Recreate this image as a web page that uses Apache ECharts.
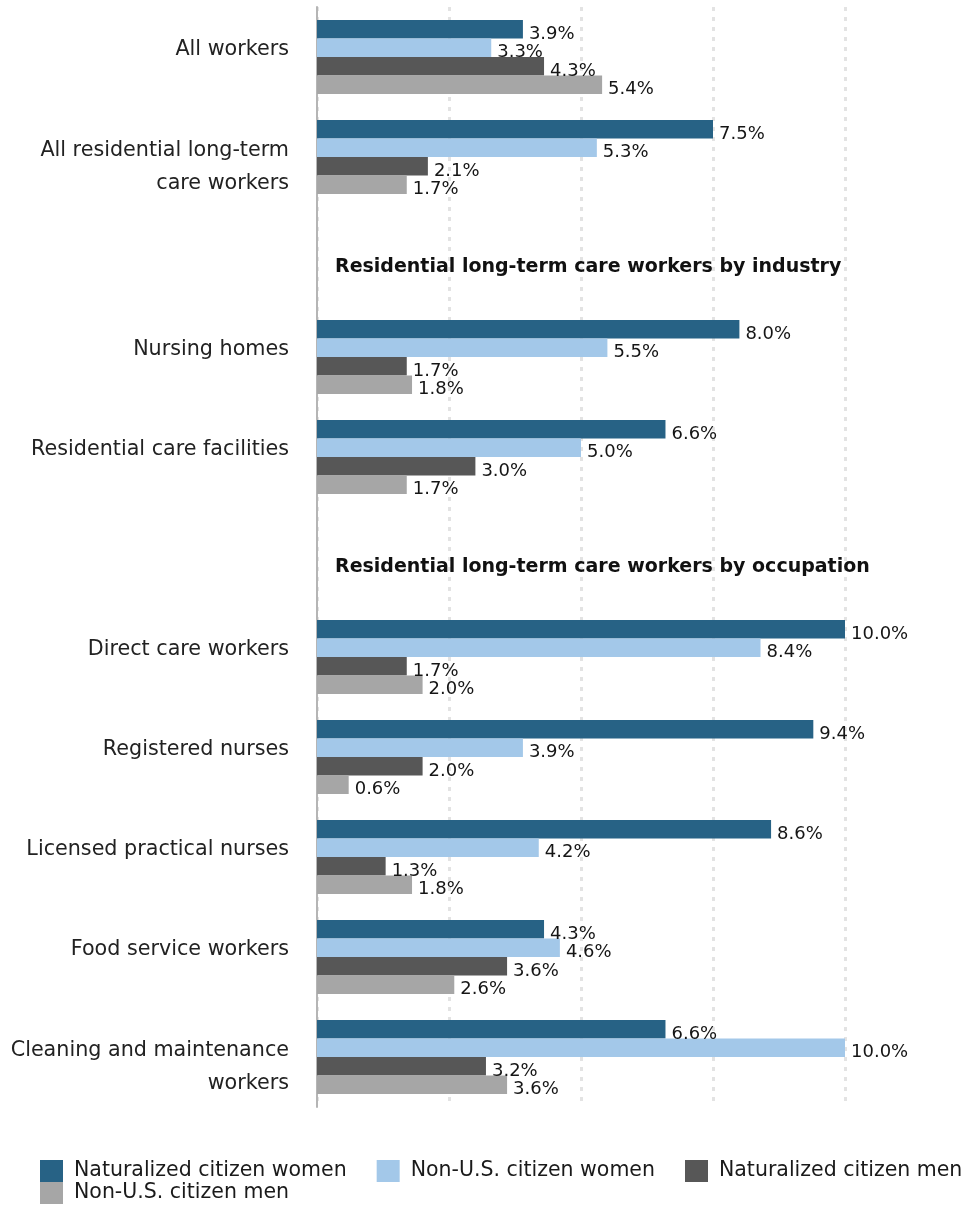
<!DOCTYPE html>
<html>
<head>
<meta charset="utf-8">
<script src="https://cdn.jsdelivr.net/npm/echarts@6/dist/echarts.min.js"></script>
<style>
  html, body { margin: 0; padding: 0; background: #fff; }
  #chart { width: 966px; height: 1208px; }
</style>
</head>
<body>
<div id="chart"></div>
<script>
// Row labels (top to bottom); empty rows hold the section headings
const categories = [
  'All workers',
  'All residential long-term\ncare workers',
  '',
  'Nursing homes',
  'Residential care facilities',
  '',
  'Direct care workers',
  'Registered nurses',
  'Licensed practical nurses',
  'Food service workers',
  'Cleaning and maintenance\nworkers'
];

// Section headings and the row each one sits on
const headingRows = [2, 5];
const headings = [
  'Residential long-term care workers by industry',
  'Residential long-term care workers by occupation'
];

const seriesNames = [
  'Naturalized citizen women',
  'Non-U.S. citizen women',
  'Naturalized citizen men',
  'Non-U.S. citizen men'
];

// Shares of workers, in percent
const naturalizedWomen = [3.9, 7.5, null, 8.0, 6.6, null, 10.0, 9.4, 8.6, 4.3, 6.6];
const nonCitizenWomen  = [3.3, 5.3, null, 5.5, 5.0, null, 8.4, 3.9, 4.2, 4.6, 10.0];
const naturalizedMen   = [4.3, 2.1, null, 1.7, 3.0, null, 1.7, 2.0, 1.3, 3.6, 3.2];
const nonCitizenMen    = [5.4, 1.7, null, 1.8, 1.7, null, 2.0, 0.6, 1.8, 2.6, 3.6];

const colors = ['#276285', '#a3c8e9', '#575757', '#a6a6a6'];
const FONT = 'DejaVu Sans';
const LABEL_SIZE = 20.7;

const chart = echarts.init(document.getElementById('chart'), null, { renderer: 'canvas' });

function barSeries(name, values, color) {
  return {
    name: name,
    type: 'bar',
    data: values,
    itemStyle: { color: color },
    barGap: '0%',
    barCategoryGap: '26%',
    label: {
      show: true,
      position: 'right',
      distance: 6,
      offset: [0, 5],
      fontFamily: FONT,
      fontSize: 18,
      color: '#151515',
      formatter: p => (p.value == null ? '' : p.value.toFixed(1) + '%')
    }
  };
}

const legendBase = {
  left: 40,
  width: 926,
  orient: 'horizontal',
  padding: 0,
  itemWidth: 23,
  itemHeight: 22,
  itemGap: 30,
  icon: 'rect',
  textStyle: { fontFamily: FONT, fontSize: 20.5, color: '#1a1a1a', padding: [0, 0, 0, 6] }
};

const option = {
  animation: false,
  backgroundColor: '#ffffff',
  textStyle: { fontFamily: FONT },
  grid: { left: 317, right: 121, top: 7, bottom: 101, containLabel: false },
  xAxis: {
    type: 'value',
    min: 0,
    max: 10,
    interval: 2.5,
    axisLabel: { show: false },
    axisLine: { show: false },
    axisTick: { show: false },
    splitLine: {
      show: true,
      lineStyle: { color: '#e3e3e3', width: 3, type: [4, 6] }
    }
  },
  yAxis: {
    type: 'category',
    inverse: true,
    data: categories,
    axisLine: { show: true, lineStyle: { color: '#b5b5b5', width: 2 } },
    axisTick: { show: false },
    axisLabel: {
      margin: 28,
      fontFamily: FONT,
      fontSize: LABEL_SIZE,
      color: '#222',
      formatter: v => {
        if (!v) return '';
        const lines = v.split('\n');
        if (lines.length === 1) return '{s|' + v + '}';
        return lines.map(l => '{m|' + l + '}').join('\n');
      },
      rich: {
        s: { fontFamily: FONT, fontSize: LABEL_SIZE, color: '#222', padding: [0, 0, 14, 0] },
        m: { fontFamily: FONT, fontSize: LABEL_SIZE, color: '#222', lineHeight: 33, padding: [20, 0, 0, 0] }
      }
    }
  },
  legend: [
    Object.assign({}, legendBase, { data: seriesNames.slice(0, 3), top: 1160 }),
    Object.assign({}, legendBase, { data: seriesNames.slice(3), top: 1182 })
  ],
  series: [
    barSeries(seriesNames[0], naturalizedWomen, colors[0]),
    barSeries(seriesNames[1], nonCitizenWomen, colors[1]),
    barSeries(seriesNames[2], naturalizedMen, colors[2]),
    barSeries(seriesNames[3], nonCitizenMen, colors[3]),
    {
      // Section headings, left-aligned just inside the plot
      name: 'headings',
      type: 'scatter',
      silent: true,
      symbolSize: 0,
      itemStyle: { opacity: 1, color: 'rgba(0,0,0,0)' },
      data: headingRows.map(row => [0, row]),
      label: {
        show: true,
        position: 'inside',
        align: 'left',
        offset: [18, 10],
        fontFamily: FONT,
        fontSize: 19,
        fontWeight: 'bold',
        color: '#111',
        formatter: p => headings[p.dataIndex]
      }
    }
  ]
};

chart.setOption(option);
</script>
</body>
</html>
